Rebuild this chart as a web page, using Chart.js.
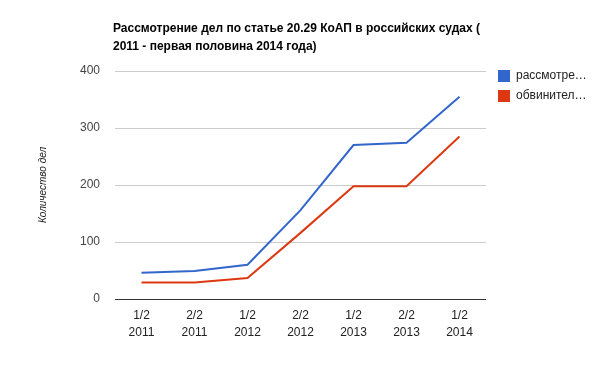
<!DOCTYPE html>
<html>
<head>
<meta charset="utf-8">
<script src="https://cdn.jsdelivr.net/npm/chart.js@4.4.0/dist/chart.umd.min.js"></script>
<style>
  html, body { margin: 0; padding: 0; background: #fff; }
  #wrap { width: 600px; height: 371px; }
</style>
</head>
<body>
<div id="wrap"><canvas id="chart" width="600" height="371"></canvas></div>
<script>
// Data
const TITLE_LINES = ['Рассмотрение дел по статье 20.29 КоАП в российских судах (', '2011 - первая половина 2014 года)'];
const Y_TITLE = 'Количество дел';
const PERIODS = [['1/2', '2011'], ['2/2', '2011'], ['1/2', '2012'], ['2/2', '2012'], ['1/2', '2013'], ['2/2', '2013'], ['1/2', '2014']];
const SERIES_NAMES = ['рассмотре…', 'обвинител…'];
const CONSIDERED = [46, 49, 60, 156, 270, 274, 355];
const CONVICTIONS = [29, 29, 37, 116, 198, 198, 285];
const COLORS = ['#3366cc', '#dc3912'];

// title + legend drawn by hand so they sit where the original puts them
const decorations = {
    id: 'decorations',
    afterDraw(chart) {
        const ctx = chart.ctx;
        const area = chart.chartArea;
        ctx.save();
        ctx.fillStyle = '#000';
        ctx.font = 'bold 12px Arial, "Liberation Sans", sans-serif';
        ctx.textBaseline = 'middle';
        ctx.textAlign = 'left';
        TITLE_LINES.forEach((line, i) => ctx.fillText(line, area.left - 2, 29 + i * 18));

        ctx.font = '12px Arial, "Liberation Sans", sans-serif';
        chart.data.datasets.forEach((ds, i) => {
            const y = 76 + i * 20;
            ctx.fillStyle = ds.borderColor;
            ctx.fillRect(498, y - 6, 12, 12);
            ctx.fillStyle = '#222';
            ctx.fillText(ds.label, 516, y);
        });
        ctx.restore();
    }
};

new Chart(document.getElementById('chart'), {
    type: 'line',
    data: {
        labels: PERIODS,
        datasets: [
            { label: SERIES_NAMES[0], data: CONSIDERED, borderColor: COLORS[0], backgroundColor: COLORS[0] },
            { label: SERIES_NAMES[1], data: CONVICTIONS, borderColor: COLORS[1], backgroundColor: COLORS[1] }
        ]
    },
    options: {
        responsive: false,
        animation: false,
        layout: { padding: { left: 30, right: 114, top: 71, bottom: 30 } },
        elements: {
            line: { borderWidth: 2, tension: 0 },
            point: { radius: 0, hoverRadius: 0 }
        },
        plugins: {
            legend: { display: false },
            title: { display: false },
            tooltip: { enabled: false }
        },
        scales: {
            x: {
                offset: true,
                grid: { display: false },
                border: { display: false },
                ticks: {
                    color: '#222',
                    font: { family: 'Arial, "Liberation Sans", sans-serif', size: 12, lineHeight: 1.35 },
                    maxRotation: 0,
                    autoSkip: false,
                    padding: 1
                },
                afterFit: s => { s.height = 42; }
            },
            y: {
                min: 0,
                max: 400,
                ticks: {
                    stepSize: 100,
                    color: '#444',
                    font: { family: 'Arial, "Liberation Sans", sans-serif', size: 12 },
                    padding: 15
                },
                grid: {
                    color: c => (c.tick && c.tick.value === 0 ? '#333' : '#ccc'),
                    lineWidth: 1,
                    drawTicks: false
                },
                border: { display: false },
                title: {
                    display: true,
                    text: Y_TITLE,
                    color: '#222',
                    font: { family: 'Arial, "Liberation Sans", sans-serif', size: 10, style: 'italic' },
                    padding: { top: 7, bottom: 0 }
                },
                afterFit: s => { s.width = 85; }
            }
        }
    },
    plugins: [decorations]
});
</script>
</body>
</html>
